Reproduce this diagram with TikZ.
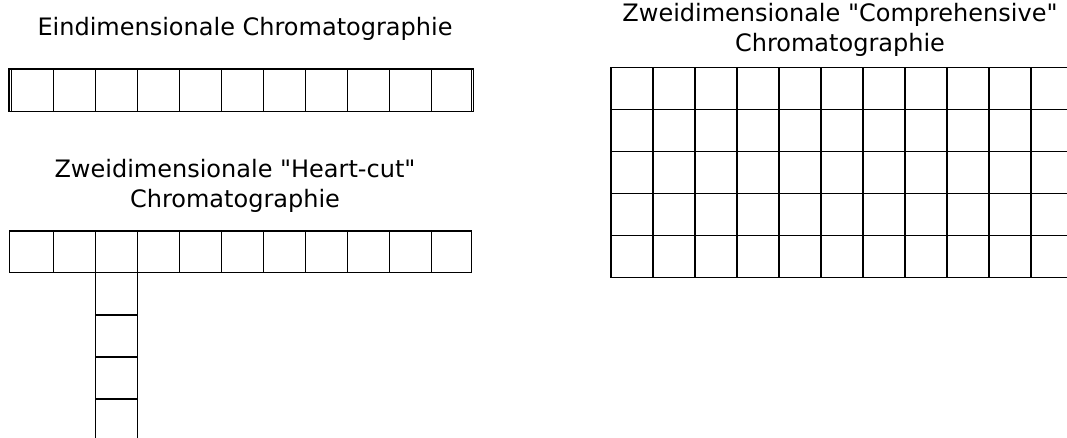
\documentclass[tikz,border=0pt]{standalone}
\usepackage{fontspec}
\setmainfont{DejaVu Sans}[Ligatures=TeXOff]
\begin{document}
\begin{tikzpicture}[x=1pt,y=-1pt,
  cell/.style={draw=black,line width=1.3pt},
  gridline/.style={draw=black,line width=1.7pt},
  lbl/.style={font=\fontsize{24}{29.5}\selectfont, align=center, anchor=base, inner sep=0pt}]
\useasboundingbox (0,0) rectangle (1067,438);
% titles (base anchor = baseline of the last line)
\node[lbl] (t1) at (245,35.7) {Eindimensionale Chromatographie};
\node[lbl] (t2) at (235,207.3) {Zweidimensionale "Heart-cut"\\Chromatographie};
\node[lbl] (t3) at (840,51.5) {Zweidimensionale "Comprehensive"\\Chromatographie};
% one-dimensional
\draw[cell] (9,69) rectangle (471.7,111.5);
\draw[cell] (11.3,69) rectangle (473.3,111.5);
\foreach \i in {1,...,10} \draw[cell] ({11.3+42*\i},69) -- ({11.3+42*\i},111.5);
% heart-cut
\draw[cell] (9.5,231) rectangle (471.7,272.5);
\foreach \i in {0,...,9} \draw[cell] ({53.5+42*\i},231) -- ({53.5+42*\i},272.5);
\draw[cell] (95.5,272.5) -- (95.5,438);
\draw[cell] (137.5,272.5) -- (137.5,438);
\foreach \y in {315,357,399} \draw[cell] (95.5,\y) -- (137.5,\y);
% comprehensive
\foreach \i in {0,...,10} \draw[gridline] ({610.7+42*\i},67.5) -- ({610.7+42*\i},277.5);
\foreach \j in {0,...,5} \draw[gridline] (610.7,{67.5+42*\j}) -- (1067,{67.5+42*\j});
\end{tikzpicture}
\end{document}
